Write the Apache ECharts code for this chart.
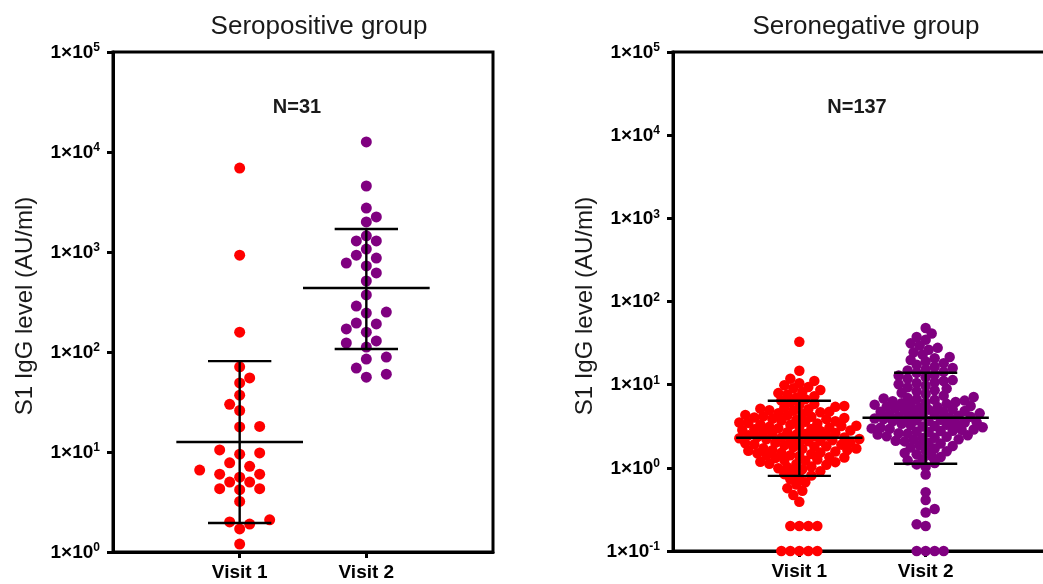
<!DOCTYPE html>
<html>
<head>
<meta charset="utf-8">
<script src="https://cdn.jsdelivr.net/npm/echarts@6/dist/echarts.min.js"></script>
<style>
html,body{margin:0;padding:0;background:#fff;}
#c{width:1043px;height:584px;}
</style>
</head>
<body>
<div id="c"></div>
<script>
// ---------- data ----------
const categories = ['Visit 1', 'Visit 2'];
const panelTitles = ['Seropositive group', 'Seronegative group'];
const panelN = ['N=31', 'N=137'];
const yAxisTitle = 'S1 IgG level (AU/ml)';

const posVisit1 = [6900, 930, 158, 71, 55, 49, 37, 30, 26, 18, 17.8, 10.5, 9.5, 9.8, 7.8, 7.2, 6.6, 6.0, 6.0, 5.6, 5.0, 5.0, 4.3, 4.2, 4.3, 3.2, 2.0, 2.1, 1.9, 1.7, 1.2];
const posVisit2 = [12600, 4570, 2750, 2240, 2000, 1450, 1290, 1290, 1070, 870, 930, 725, 776, 617, 513, 372, 288, 245, 251, 191, 195, 158, 170, 129, 112, 123, 85, 89, 69, 56, 60];

const negVisit1 = [0.1,0.1,0.1,0.1,0.1,
0.2,0.2,0.2,0.2,
0.39,
0.47,0.53,0.57,
0.63,0.67,0.73,0.77,
0.81,0.84,0.89,0.91,0.96,0.99,
1.02,1.04,1.09,1.11,1.12,1.17,1.18,1.22,1.24,
1.26,1.31,1.33,1.34,1.39,1.41,1.42,1.47,1.5,1.52,1.53,1.57,1.6,
1.63,1.64,1.69,1.71,1.72,1.78,1.81,1.82,1.87,1.9,1.92,1.97,2.0,2.01,2.06,2.09,
2.11,2.14,2.19,2.2,2.22,2.27,2.31,2.32,2.35,2.41,2.44,2.46,2.51,2.55,2.57,2.63,2.68,
2.71,2.78,2.81,2.85,2.91,2.94,3.0,3.03,3.09,3.12,3.19,3.21,3.29,3.33,3.41,3.47,
3.51,3.59,3.63,3.71,3.76,3.85,3.89,3.98,4.03,4.11,4.17,4.27,4.33,4.43,
4.54,4.66,4.74,4.86,4.94,5.06,5.15,5.29,5.41,5.53,5.72,5.87,
6.1,6.45,6.68,7.02,7.28,7.63,7.92,
8.15,8.62,9.05,9.38,9.83,
10.4,11.1,11.8,
14.7,32.7];

const negVisit2 = [0.1,0.1,0.1,0.1,
0.2,0.21,
0.29,0.32,
0.41,0.51,
0.83,
1.03,1.1,1.14,1.23,
1.27,1.35,1.39,1.46,1.51,1.58,
1.62,1.71,1.75,1.83,1.87,1.96,2.0,2.08,
2.12,2.18,2.21,2.28,2.3,2.37,2.4,2.47,2.51,2.58,2.61,2.69,
2.72,2.77,2.79,2.86,2.89,2.95,2.98,3.05,3.08,3.15,3.19,3.27,3.3,3.38,
3.42,3.5,3.54,3.62,3.66,3.74,3.78,3.86,3.91,3.99,4.03,4.11,4.15,4.23,4.27,
4.36,4.42,4.52,4.58,4.68,4.74,4.84,4.91,5.01,5.08,5.19,5.26,5.37,5.44,
5.54,5.67,5.75,5.88,5.97,6.1,6.19,6.33,6.43,6.57,6.67,6.81,6.92,
7.12,7.38,7.72,7.98,8.32,8.58,8.97,9.28,9.72,
10.1,10.45,10.68,11.05,11.35,11.82,
12.3,12.85,13.25,13.85,14.25,14.85,15.25,15.85,
16.4,17.35,18.05,18.95,19.75,20.75,21.55,
23.1,24.5,26.3,27.7,29.6,
31.4,34.6,37.4,41.2,
48];

// geometric mean and SD bounds per visit
const posMean = [12.6, 437];
const posSdLow = [1.95, 107];
const posSdHigh = [81, 1700];
const negMean = [2.3, 4.0];
const negSdLow = [0.80, 1.12];
const negSdHigh = [6.4, 13.9];

const posYRange = [1, 100000];
const negYRange = [0.1, 100000];

// ---------- chart ----------
const FONT = '"Liberation Sans", Arial, Helvetica, sans-serif';
const RED = '#ff0000';
const PURPLE = '#800080';

const chart = echarts.init(document.getElementById('c'), null, {renderer: 'canvas'});

function expLabel(v) {
  const e = Math.round(Math.log10(v));
  return '{b|1×10}{s|' + e + '}';
}

function makeXAxis(gi) {
  return {
    type: 'value', gridIndex: gi, min: 0, max: 3, interval: 1,
    axisLine: {show: true, lineStyle: {color: '#000', width: 3}},
    axisTick: {show: true, inside: false, length: 6, lineStyle: {color: '#000', width: 3}, customValues: [1, 2]},
    axisLabel: {
      show: true, margin: 11, color: '#000', fontFamily: FONT, fontWeight: 'bold', fontSize: 19,
      customValues: [1, 2],
      formatter: v => (v >= 1 && v <= categories.length && Math.abs(v - Math.round(v)) < 1e-9) ? categories[Math.round(v) - 1] : ''
    },
    splitLine: {show: false}
  };
}

function makeYAxis(gi, range) {
  return {
    type: 'log', logBase: 10, gridIndex: gi, min: range[0], max: range[1],
    axisLine: {show: true, lineStyle: {color: '#000', width: 3}},
    axisTick: {show: true, inside: false, length: 6, lineStyle: {color: '#000', width: 3}},
    minorTick: {show: false},
    splitLine: {show: false},
    axisLabel: {
      show: true, margin: 13, formatter: expLabel,
      rich: {
        b: {fontSize: 19, fontWeight: 'bold', fontFamily: FONT, color: '#000', lineHeight: 20, verticalAlign: 'bottom'},
        s: {fontSize: 12, fontWeight: 'bold', fontFamily: FONT, color: '#000', lineHeight: 12, verticalAlign: 'top'}
      }
    }
  };
}

function txt(text, x, y, size, weight, rot) {
  return {
    type: 'text', x: x, y: y, rotation: rot || 0, silent: true,
    style: {
      text: text, fill: '#1a1a1a', fontSize: size, fontWeight: weight, fontFamily: FONT,
      textAlign: 'center', textVerticalAlign: 'middle', align: 'center', verticalAlign: 'middle'
    }
  };
}

const baseOption = {
  animation: false,
  backgroundColor: '#fff',
  grid: [
    {left: 113, top: 52, width: 380, height: 500, show: true, borderColor: '#000', borderWidth: 3, backgroundColor: 'transparent', containLabel: false, outerBoundsMode: 'none'},
    {left: 673, top: 52, width: 379, height: 499, show: true, borderColor: '#000', borderWidth: 3, backgroundColor: 'transparent', containLabel: false, outerBoundsMode: 'none'}
  ],
  xAxis: [makeXAxis(0), makeXAxis(1)],
  yAxis: [makeYAxis(0, posYRange), makeYAxis(1, negYRange)],
  graphic: [
    txt(panelTitles[0], 319, 27, 26, 'normal'),
    txt(panelTitles[1], 866, 27, 26, 'normal'),
    txt(panelN[0], 297, 107, 20, 'bold'),
    txt(panelN[1], 857, 107, 20, 'bold'),
    txt(yAxisTitle, 25, 306, 24, 'normal', Math.PI / 2),
    txt(yAxisTitle, 585, 306, 24, 'normal', Math.PI / 2)
  ],
  series: []
};

chart.setOption(baseOption);

function pixelY(gi, v) { return chart.convertToPixel({gridIndex: gi}, [1, v])[1]; }
function unitPx(gi) { return chart.convertToPixel({gridIndex: gi}, [1, 1])[0] - chart.convertToPixel({gridIndex: gi}, [0, 1])[0]; }

// beeswarm layout: spread dots sideways so they do not overlap
function swarm(values, gi, center, d, step) {
  const ys = values.map(v => pixelY(gi, v));
  const order = ys.map((_, i) => i).sort((a, b) => ys[b] - ys[a]);
  const placed = [];
  const off = new Array(ys.length).fill(0);
  let side = 1;
  order.forEach(i => {
    for (let k = 0; k < 400; k++) {
      const cands = k === 0 ? [0] : [side * k * step, -side * k * step];
      const ok = cands.find(c => placed.every(p => (p.x - c) * (p.x - c) + (p.y - ys[i]) * (p.y - ys[i]) >= d * d));
      if (ok !== undefined) {
        off[i] = ok; placed.push({x: ok, y: ys[i]});
        if (ok !== 0) side = -side;
        break;
      }
    }
  });
  const u = unitPx(gi);
  return values.map((v, i) => [center + off[i] / u, v]);
}

function scatter(gi, values, center, color, d, step, size) {
  return {
    type: 'scatter', xAxisIndex: gi, yAxisIndex: gi,
    symbol: 'circle', symbolSize: size, z: 2,
    itemStyle: {color: color, opacity: 1},
    data: swarm(values, gi, center, d, step)
  };
}

function errorBars(gi, means, lows, highs) {
  return {
    type: 'custom', xAxisIndex: gi, yAxisIndex: gi, z: 5, silent: true,
    data: means.map((m, i) => [i + 1, m, lows[i], highs[i]]),
    renderItem: function (params, api) {
      const x = api.value(0), m = api.value(1), lo = api.value(2), hi = api.value(3);
      const st = {stroke: '#000', lineWidth: 2.4};
      const line = (a, b) => ({type: 'line', shape: {x1: a[0], y1: a[1], x2: b[0], y2: b[1]}, style: st});
      return {
        type: 'group',
        children: [
          line(api.coord([x, lo]), api.coord([x, hi])),
          line(api.coord([x - 0.5, m]), api.coord([x + 0.5, m])),
          line(api.coord([x - 0.25, hi]), api.coord([x + 0.25, hi])),
          line(api.coord([x - 0.25, lo]), api.coord([x + 0.25, lo]))
        ]
      };
    }
  };
}

chart.setOption({
  series: [
    scatter(0, posVisit1, 1, RED, 11, 10, 11),
    scatter(0, posVisit2, 2, PURPLE, 11, 10, 11),
    scatter(1, negVisit1, 1, RED, 7.6, 3, 10.5),
    scatter(1, negVisit2, 2, PURPLE, 7.6, 3, 10.5),
    errorBars(0, posMean, posSdLow, posSdHigh),
    errorBars(1, negMean, negSdLow, negSdHigh)
  ]
});
</script>
</body>
</html>
